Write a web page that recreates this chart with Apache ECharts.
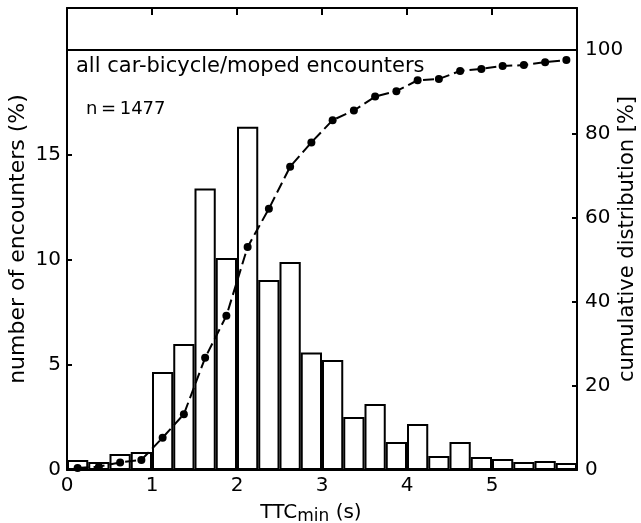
<!DOCTYPE html>
<html>
<head>
<meta charset="utf-8">
<script src="https://cdn.jsdelivr.net/npm/echarts@6/dist/echarts.min.js"></script>
<style>
  html, body { margin: 0; padding: 0; background: #fff; }
  #chart { width: 641px; height: 523px; }
</style>
</head>
<body>
<div id="chart"></div>
<script>
// TTC_min classes, 0.25 s wide, from 0 to 6 s
var classes = ['0-0.25','0.25-0.5','0.5-0.75','0.75-1','1-1.25','1.25-1.5','1.5-1.75','1.75-2',
	'2-2.25','2.25-2.5','2.5-2.75','2.75-3','3-3.25','3.25-3.5','3.5-3.75','3.75-4',
	'4-4.25','4.25-4.5','4.5-4.75','4.75-5','5-5.25','5.25-5.5','5.5-5.75','5.75-6'];
// number of encounters (%)
var share = [0.48,0.38,0.76,0.86,4.67,6.0,13.4,10.1,16.35,9.05,9.9,5.6,
	5.24,2.52,3.14,1.33,2.19,0.67,1.33,0.62,0.52,0.38,0.43,0.33];
// cumulative distribution (%)
var cumulative = [0.5,0.8,1.8,2.4,7.7,13.3,26.7,36.7,53.1,62.2,72.2,78.0,
	83.3,85.6,88.9,90.2,92.8,93.1,95.0,95.5,96.2,96.4,97.1,97.6];
var leftTicks = [0,5,10,15];
var rightTicks = [0,20,40,60,80,100];
var xTicks = [0,1,2,3,4,5];

var font = 'DejaVu Sans';
var axisLine = { show: true, onZero: false, lineStyle: { color: '#000', width: 2 } };
var myChart = echarts.init(document.getElementById('chart'));
var option = {
	animation: false,
	backgroundColor: '#fff',
	textStyle: { fontFamily: font, color: '#000' },
	grid: { left: 67, right: 64, top: 8, bottom: 53, outerBoundsMode: 'none', containLabel: false },
	graphic: [{
		type: 'text', left: 76, top: 56,
		style: { text: 'all car-bicycle/moped encounters', font: '21px "DejaVu Sans"', fill: '#000' }
	},{
		type: 'text', left: 86, top: 100,
		style: { text: 'n\u2009=\u20091477', font: '18px "DejaVu Sans"', fill: '#000' }
	}],
	xAxis: [{
		type: 'category',
		data: classes,
		show: false
	},{
		type: 'value', position: 'bottom',
		min: 0, max: 6, interval: 1,
		axisLine: axisLine,
		axisTick: { inside: true, length: 6, lineStyle: { color: '#000', width: 2 } },
		axisLabel: {
			fontSize: 20, color: '#000', margin: 6,
			formatter: function (v) { return xTicks.indexOf(v) >= 0 ? String(v) : ''; }
		},
		splitLine: { show: false },
		name: '{a|TTC}{b|min}{a| (s)}',
		nameLocation: 'middle', nameGap: 30,
		nameTextStyle: {
			padding: [0, 22, 0, 0],
			rich: {
				a: { fontSize: 20, fontFamily: font, color: '#000' },
				b: { fontSize: 17, fontFamily: font, color: '#000', verticalAlign: 'bottom', padding: [8, 0, 0, 0] }
			}
		}
	},{
		type: 'value', position: 'top',
		min: 0, max: 6, interval: 1,
		axisLine: axisLine,
		axisTick: { inside: true, length: 7, lineStyle: { color: '#000', width: 2 } },
		axisLabel: { show: false },
		splitLine: { show: false }
	}],
	yAxis: [{
		type: 'value', position: 'left',
		min: 0, max: 22, interval: 5,
		axisLine: axisLine,
		axisTick: { inside: true, length: 5, lineStyle: { color: '#000', width: 2 } },
		axisLabel: {
			fontSize: 20, color: '#000', margin: 6,
			formatter: function (v) { return leftTicks.indexOf(v) >= 0 ? String(v) : ''; }
		},
		splitLine: { show: false },
		name: 'number of encounters (%)',
		nameLocation: 'middle', nameGap: 38, nameRotate: 90,
		nameMoveOverlap: false,
		nameTextStyle: { fontSize: 22, color: '#000' }
	},{
		type: 'value', position: 'right',
		min: 0, max: 110, interval: 20,
		axisLine: axisLine,
		axisTick: { inside: true, length: 5, lineStyle: { color: '#000', width: 2 } },
		axisLabel: {
			fontSize: 20, color: '#000', margin: 8,
			formatter: function (v) { return rightTicks.indexOf(v) >= 0 ? String(v) : ''; }
		},
		splitLine: { show: false },
		name: 'cumulative distribution [%]',
		nameLocation: 'middle', nameGap: 40, nameRotate: 90,
		nameMoveOverlap: false,
		nameTextStyle: { fontSize: 21, color: '#000' }
	}],
	series: [{
		type: 'bar',
		name: 'encounters',
		xAxisIndex: 0, yAxisIndex: 0,
		barCategoryGap: 0,
		data: share,
		itemStyle: { color: '#fff', borderColor: '#000', borderWidth: 2 },
		markLine: {
			silent: true, symbol: 'none',
			label: { show: false },
			lineStyle: { color: '#000', width: 2, type: 'solid' },
			data: [{ yAxis: 20 }]
		}
	},{
		type: 'line',
		name: 'cumulative',
		xAxisIndex: 0, yAxisIndex: 1,
		data: cumulative,
		symbol: 'circle', symbolSize: 8,
		itemStyle: { color: '#000' },
		lineStyle: { color: '#000', width: 2, type: [11, 5] },
		z: 5
	}]
};
myChart.setOption(option);
</script>
</body>
</html>
